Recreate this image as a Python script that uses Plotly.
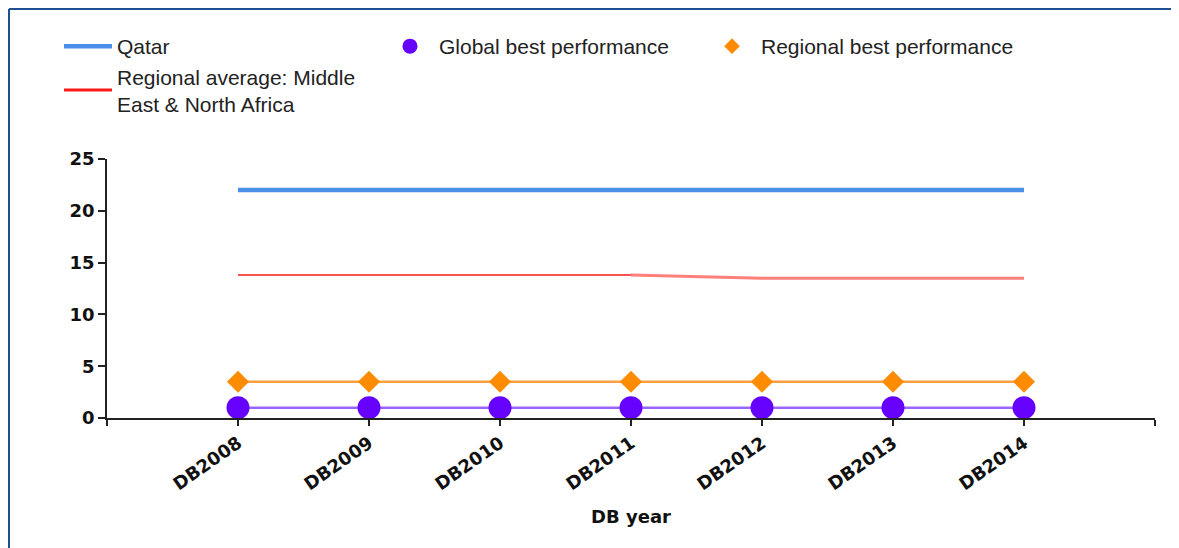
import plotly.graph_objects as go

categories = ["DB2008", "DB2009", "DB2010", "DB2011", "DB2012", "DB2013", "DB2014"]
qatar = [22, 22, 22, 22, 22, 22, 22]
regional_avg = [13.8, 13.8, 13.8, 13.8, 13.5, 13.5, 13.5]
global_best = [1, 1, 1, 1, 1, 1, 1]
regional_best = [3.5, 3.5, 3.5, 3.5, 3.5, 3.5, 3.5]
y_ticks = [0, 5, 10, 15, 20, 25]

xi = list(range(len(categories)))

# page body has an 8px margin; figure coordinates = screen - 8
OFF = 8
W, H = 1179 - OFF, 548 - OFF
ML, MR, MT, MB = 107 - OFF, 24, 159 - OFF, 130
PW, PH = W - ML - MR, H - MT - MB

def px_x(p):  # p: screen pixel
    return (p - OFF - ML) / PW

def px_y(p):
    return (H - MB - (p - OFF)) / PH

fig = go.Figure()

fig.add_trace(go.Scatter(x=xi, y=qatar, mode="lines", line=dict(color="#4a8fe8", width=4.5),
                         showlegend=False, hoverinfo="skip"))
fig.add_trace(go.Scatter(x=xi[:4], y=regional_avg[:4], mode="lines", line=dict(color="#ff1a1a", width=1.5),
                         showlegend=False))
fig.add_trace(go.Scatter(x=xi[3:], y=regional_avg[3:], mode="lines", line=dict(color="#ff8078", width=3),
                         showlegend=False))
fig.add_trace(go.Scatter(x=xi, y=regional_best, mode="lines+markers",
                         line=dict(color="#ffa040", width=2.5),
                         marker=dict(symbol="diamond", size=17, color="#ff8c00"),
                         showlegend=False))
fig.add_trace(go.Scatter(x=xi, y=global_best, mode="lines+markers",
                         line=dict(color="#9a66ff", width=2.5),
                         marker=dict(symbol="circle", size=23, color="#6600ff"),
                         showlegend=False))

fig.add_trace(go.Scatter(x=[None], y=[None], mode="lines", name="Qatar",
                         line=dict(color="#4a8fe8", width=4.5), legendrank=1))
fig.add_trace(go.Scatter(x=[None], y=[None], mode="markers", name="Global best performance",
                         marker=dict(symbol="circle", size=15, color="#6600ff"), legendrank=2))
fig.add_trace(go.Scatter(x=[None], y=[None], mode="markers", name="Regional best performance",
                         marker=dict(symbol="diamond", size=12, color="#ff8c00"), legendrank=3))
fig.add_trace(go.Scatter(x=[None], y=[None], mode="lines", name="Regional average: Middle<br>East & North Africa",
                         line=dict(color="#ff1a1a", width=3), legendrank=4))

frame_color = "#1f4f8f"
fig.add_shape(type="line", xref="paper", yref="paper",
              x0=px_x(9), x1=px_x(1179 + 20), y0=px_y(9), y1=px_y(9),
              line=dict(color=frame_color, width=2))
fig.add_shape(type="line", xref="paper", yref="paper",
              x0=px_x(9), x1=px_x(9), y0=px_y(9), y1=px_y(548 + 20),
              line=dict(color=frame_color, width=2))

tick_font = dict(family="DejaVu Sans, Verdana, sans-serif", size=18, color="#111111", weight="bold")

fig.update_layout(
    width=W, height=H,
    margin=dict(l=ML, r=MR, t=MT, b=MB),
    paper_bgcolor="white", plot_bgcolor="white",
    font=dict(family="Liberation Sans, Arial, sans-serif", color="#222222"),
    legend=dict(orientation="h", x=px_x(59), xanchor="left", y=px_y(26), yanchor="top",
                entrywidth=259, entrywidthmode="pixels", itemwidth=48,
                font=dict(size=21, color="#222222", family="Liberation Sans, Arial, sans-serif"),
                bgcolor="rgba(0,0,0,0)", tracegroupgap=0, valign="middle"),
    xaxis=dict(
        range=[-1, len(categories)],
        tickmode="array",
        tickvals=[-1] + xi + [len(categories)],
        ticktext=[""] + categories + [""],
        tickangle=-35,
        ticks="outside", ticklen=6, tickwidth=1.5, tickcolor="#222222",
        showline=True, linecolor="#222222", linewidth=1.5,
        showgrid=False, zeroline=False,
        tickfont=tick_font,
        title=dict(text="DB year", font=dict(family="DejaVu Sans, Verdana, sans-serif", size=18,
                                              color="#111111", weight="bold"), standoff=17),
    ),
    yaxis=dict(
        range=[0, 25],
        tickmode="array", tickvals=y_ticks,
        ticks="outside", ticklen=7, tickwidth=1.5, tickcolor="#222222",
        showline=True, linecolor="#222222", linewidth=1.5,
        showgrid=False, zeroline=False,
        tickfont=tick_font,
    ),
)

fig.write_html("out.html")
